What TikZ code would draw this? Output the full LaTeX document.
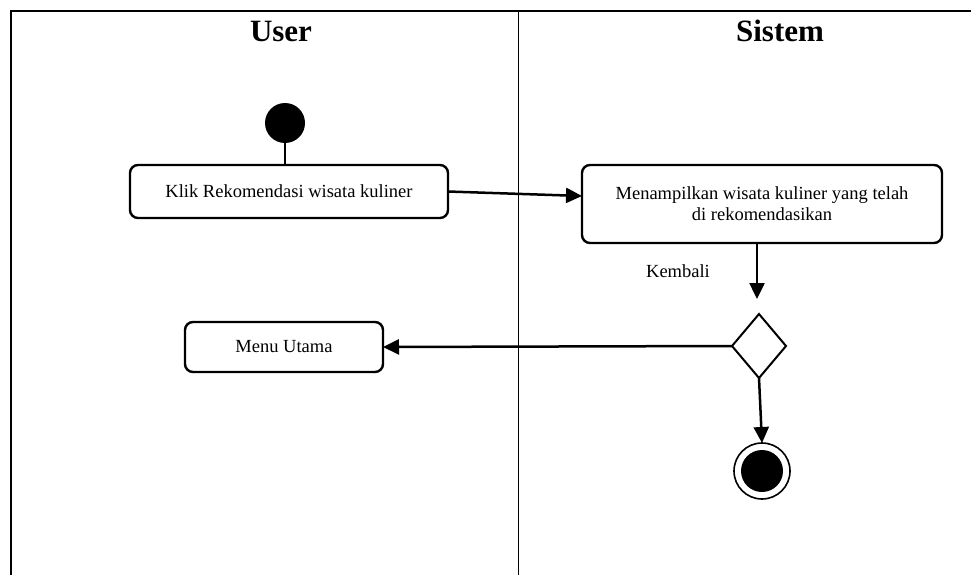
\documentclass[tikz,border=0pt]{standalone}
\usepackage{fontspec}
\setmainfont{Liberation Serif}
\usetikzlibrary{arrows.meta,shapes.geometric}

\tikzset{
  lane/.style={line width=2.6pt, line cap=rect},
  divider/.style={line width=0.9pt},
  header/.style={font=\fontsize{31}{31}\selectfont\bfseries, anchor=base, inner sep=0pt},
  action/.style={draw, line width=2.4pt, rounded corners=8pt, align=center,
    font=\fontsize{18.5}{21}\selectfont, inner sep=0pt, outer sep=0pt},
  label/.style={font=\fontsize{18.5}{21}\selectfont, anchor=base, inner sep=0pt},
  startnode/.style={circle, fill=black, minimum size=40pt, inner sep=0pt, outer sep=0pt},
  decision/.style={diamond, draw, line width=2pt, minimum width=54pt, minimum height=64pt,
    inner sep=0pt, outer sep=0pt},
  flow/.style={line width=2.5pt, -{Triangle[length=16pt,width=15pt]}},
  plain/.style={line width=2.5pt},
}

\begin{document}
\begin{tikzpicture}[x=1pt, y=-1pt]
  \useasboundingbox (0,0) rectangle (971,575);

  % swimlane frame
  \draw[lane] (971,11) -- (11,11) -- (11,575);
  \draw[divider] (518,11) -- (518,575);
  \node[header] (hu) at (281,42) {User};
  \node[header] (hs) at (780,42) {Sistem};

  % activities
  \node[startnode] (start) at (285,123) {};
  \node[action, minimum width=318pt, minimum height=53pt] (b1) at (289,191.5)
    {Klik Rekomendasi wisata kuliner};
  \node[action, minimum width=360pt, minimum height=78pt] (b2) at (762,204)
    {Menampilkan wisata kuliner yang telah\\di rekomendasikan};
  \node[action, minimum width=198pt, minimum height=50pt] (mu) at (284,347)
    {Menu Utama};
  \node[decision] (dia) at (759,346) {};
  \node[circle, draw, line width=1.6pt, minimum size=56pt, inner sep=0pt, outer sep=0pt] (fin) at (762,471) {};
  \node[circle, fill=black, minimum size=42pt, inner sep=0pt] (finin) at (fin.center) {};
  \node[label] (kb) at (678,277) {Kembali};

  % flows
  \draw[plain] (start.south) -- (b1.north -| start.south);
  \draw[flow] (b1.east) -- ([yshift=8pt]b2.west);
  \draw[flow, shorten >=15pt] ([xshift=-5pt]b2.south) -- ([xshift=-2pt]dia.north);
  \draw[flow] (dia.west) -- (mu.east);
  \draw[flow] (dia.south) -- (fin.north);
\end{tikzpicture}
\end{document}
